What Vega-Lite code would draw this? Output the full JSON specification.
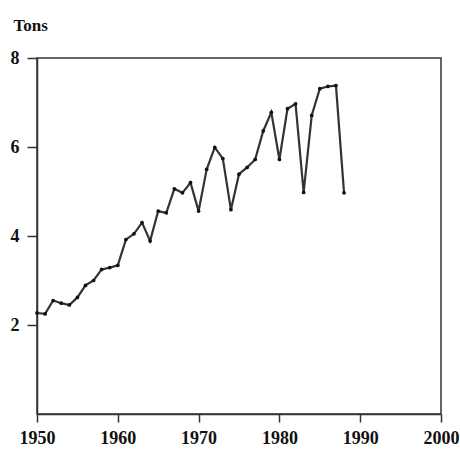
{
  "$schema": "https://vega.github.io/schema/vega-lite/v6.json",
  "width": 404,
  "height": 356,
  "autosize": "none",
  "padding": {"left": 37, "top": 58, "right": 19, "bottom": 36},
  "background": "white",
  "config": {
    "view": {"stroke": "#333", "strokeWidth": 1.5},
    "font": "Liberation Serif"
  },
  "data": {"values": [
    {"year": 1950, "tons": 2.27},
    {"year": 1951, "tons": 2.25},
    {"year": 1952, "tons": 2.55},
    {"year": 1953, "tons": 2.49},
    {"year": 1954, "tons": 2.45},
    {"year": 1955, "tons": 2.62},
    {"year": 1956, "tons": 2.89},
    {"year": 1957, "tons": 3.0},
    {"year": 1958, "tons": 3.25},
    {"year": 1959, "tons": 3.29},
    {"year": 1960, "tons": 3.34},
    {"year": 1961, "tons": 3.92},
    {"year": 1962, "tons": 4.05},
    {"year": 1963, "tons": 4.3},
    {"year": 1964, "tons": 3.89},
    {"year": 1965, "tons": 4.56},
    {"year": 1966, "tons": 4.52},
    {"year": 1967, "tons": 5.06},
    {"year": 1968, "tons": 4.97},
    {"year": 1969, "tons": 5.2},
    {"year": 1970, "tons": 4.56},
    {"year": 1971, "tons": 5.5},
    {"year": 1972, "tons": 5.99},
    {"year": 1973, "tons": 5.74},
    {"year": 1974, "tons": 4.59},
    {"year": 1975, "tons": 5.39},
    {"year": 1976, "tons": 5.54},
    {"year": 1977, "tons": 5.72},
    {"year": 1978, "tons": 6.36},
    {"year": 1979, "tons": 6.78},
    {"year": 1980, "tons": 5.72},
    {"year": 1981, "tons": 6.86},
    {"year": 1982, "tons": 6.97},
    {"year": 1983, "tons": 4.98},
    {"year": 1984, "tons": 6.71},
    {"year": 1985, "tons": 7.31},
    {"year": 1986, "tons": 7.36},
    {"year": 1987, "tons": 7.38},
    {"year": 1988, "tons": 4.97}
  ]},
  "mark": {"type": "line", "color": "#333", "strokeWidth": 2.2, "point": {"filled": true, "size": 14, "color": "#111"}},
  "encoding": {
    "x": {
      "field": "year", "type": "quantitative",
      "scale": {"domain": [1950, 2000], "nice": false, "zero": false},
      "axis": {
        "values": [1950, 1960, 1970, 1980, 1990, 2000],
        "format": "d", "grid": false, "title": null,
        "domainColor": "#333", "domainWidth": 1.5,
        "tickColor": "#333", "tickWidth": 1.5, "tickSize": 8,
        "labelFont": "Liberation Serif", "labelFontSize": 18, "labelColor": "#111",
        "labelFontWeight": "bold", "labelPadding": 7, "labelFlush": false
      }
    },
    "y": {
      "field": "tons", "type": "quantitative",
      "scale": {"domain": [0, 8], "nice": false},
      "axis": {
        "values": [2, 4, 6, 8], "grid": false,
        "title": "Tons", "titleAngle": 0, "titleAlign": "left", "titleBaseline": "middle",
        "titleX": -24, "titleY": -33,
        "titleFont": "Liberation Serif", "titleFontSize": 17, "titleFontWeight": "bold", "titleColor": "#111",
        "domainColor": "#333", "domainWidth": 1.5,
        "tickColor": "#333", "tickWidth": 1.5, "tickSize": 10,
        "labelFont": "Liberation Serif", "labelFontSize": 18, "labelColor": "#111",
        "labelFontWeight": "bold", "labelPadding": 8
      }
    }
  }
}
